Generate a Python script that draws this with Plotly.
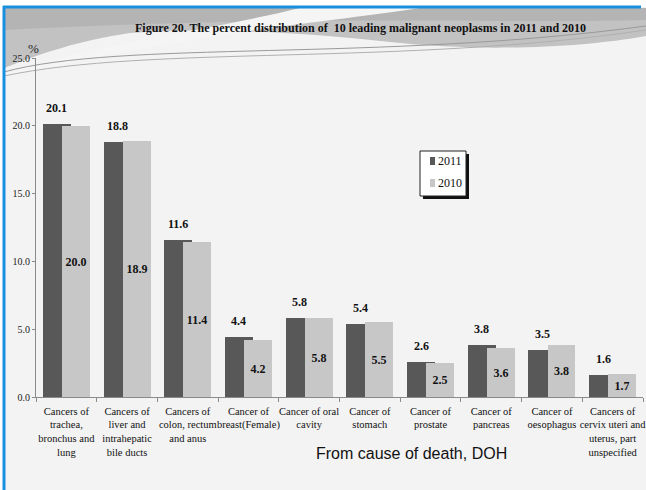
import plotly.graph_objects as go

# ---------------- data ----------------
categories = [
    "Cancers of<br>trachea,<br>bronchus and<br>lung",
    "Cancers of<br>liver and<br>intrahepatic<br>bile ducts",
    "Cancers of<br>colon, rectum<br>and anus",
    "Cancer of<br>breast(Female)",
    "Cancer of oral<br>cavity",
    "Cancer of<br>stomach",
    "Cancer of<br>prostate",
    "Cancer of<br>pancreas",
    "Cancer of<br>oesophagus",
    "Cancers of<br>cervix uteri and<br>uterus, part<br>unspecified",
]
values_2011 = [20.1, 18.8, 11.6, 4.4, 5.8, 5.4, 2.6, 3.8, 3.5, 1.6]
values_2010 = [20.0, 18.9, 11.4, 4.2, 5.8, 5.5, 2.5, 3.6, 3.8, 1.7]
y_ticks = [0, 5, 10, 15, 20, 25]
series_names = ["2011", "2010"]

# ---------------- layout helpers ----------------
W, H = 646, 490
ML, MR, MT, MB = 36, 3, 58, 93
PW, PH = W - ML - MR, H - MT - MB


def px(x):
    return (x - ML) / PW


def py(y):
    return (H - MB - y) / PH


def path(cmds):
    out = []
    for c in cmds:
        if isinstance(c, str):
            out.append(c)
        else:
            out.append(f"{px(c[0]):.5f},{py(c[1]):.5f}")
    return " ".join(out)


SERIF = "Liberation Serif, Times New Roman, serif"
SANS = "Liberation Sans, Arial, sans-serif"
DARK = "#585858"
LIGHT = "#c7c7c7"

fig = go.Figure()

fig.add_trace(go.Bar(
    x=categories, y=values_2011, name=series_names[0],
    marker=dict(color=DARK, line=dict(width=0)),
    width=0.46, offset=-0.387, showlegend=False, hoverinfo="x+y",
))
fig.add_trace(go.Bar(
    x=categories, y=values_2010, name=series_names[1],
    marker=dict(color=LIGHT, line=dict(width=0)),
    width=0.46, offset=-0.073, showlegend=False,
    text=[f"<b>{v:.1f}</b>" for v in values_2010],
    textposition="inside", insidetextanchor="middle", textangle=0,
    constraintext="none",
    textfont=dict(family=SERIF, size=12, color="#111"),
))

annotations = []
# 2011 labels above the dark bars
bar_center_shift = (-0.387 + 0.23) * PW / len(categories)
for c, v in zip(categories, values_2011):
    annotations.append(dict(
        x=c, y=v, xref="x", yref="y", text=f"<b>{v:.1f}</b>", showarrow=False,
        xshift=bar_center_shift, yshift=16, yanchor="middle",
        font=dict(family=SERIF, size=12, color="#111"),
    ))

# title
annotations.append(dict(
    x=px(360), y=py(28), xref="paper", yref="paper", showarrow=False,
    text="<b>Figure 20. The percent distribution of  10 leading malignant neoplasms in 2011 and 2010</b>",
    font=dict(family=SERIF, size=12, color="#111"), xanchor="center", yanchor="middle",
))
# % unit
annotations.append(dict(
    x=px(33), y=py(48), xref="paper", yref="paper", showarrow=False, text="%",
    font=dict(family=SERIF, size=13, color="#222"), xanchor="center", yanchor="middle",
))
# source
annotations.append(dict(
    x=px(411), y=py(453), xref="paper", yref="paper", showarrow=False,
    text="From cause of death, DOH",
    font=dict(family=SANS, size=16, color="#111"), xanchor="center", yanchor="middle",
))
# legend texts
annotations.append(dict(
    x=px(436), y=py(161), xref="paper", yref="paper", showarrow=False, text=series_names[0],
    font=dict(family=SERIF, size=12, color="#111"), xanchor="left", yanchor="middle",
))
annotations.append(dict(
    x=px(436), y=py(183), xref="paper", yref="paper", showarrow=False, text=series_names[1],
    font=dict(family=SERIF, size=12, color="#111"), xanchor="left", yanchor="middle",
))

shapes = []
# slide background
shapes.append(dict(type="rect", xref="paper", yref="paper", layer="below",
                   x0=px(4), x1=px(W), y0=py(7), y1=py(H),
                   fillcolor="#f3f3f3", line=dict(width=0)))
# grey header swoosh
shapes.append(dict(type="path", xref="paper", yref="paper", layer="below",
                   path=path(["M", (4, 8), "L", (646, 8), "L", (646, 36),
                              "C", (580, 48), (480, 52), (390, 42),
                              "C", (300, 32), (200, 27), (130, 33),
                              "C", (80, 40), (40, 54), (4, 68), "Z"]),
                   fillcolor="#c2c2c2", line=dict(width=0)))
shapes.append(dict(type="path", xref="paper", yref="paper", layer="below",
                   path=path(["M", (4, 8), "L", (646, 8), "L", (646, 20),
                              "C", (500, 24), (300, 14), (4, 30), "Z"]),
                   fillcolor="#b4b4b4", line=dict(width=0)))
# white swoosh band
shapes.append(dict(type="path", xref="paper", yref="paper", layer="below",
                   path=path(["M", (4, 74), "C", (90, 46), (220, 28), (300, 8),
                              "L", (420, 8), "C", (330, 22), (180, 34), (4, 78), "Z"]),
                   fillcolor="#f5f5f5", line=dict(width=0)))
# thin swoosh lines
shapes.append(dict(type="path", xref="paper", yref="paper", layer="below",
                   path=path(["M", (4, 72), "C", (120, 40), (380, 62), (646, 26)]),
                   line=dict(color="#9a9a9a", width=1)))
shapes.append(dict(type="path", xref="paper", yref="paper", layer="below",
                   path=path(["M", (4, 76), "C", (150, 45), (400, 66), (646, 30)]),
                   line=dict(color="#b0b0b0", width=1)))
# blue frame
shapes.append(dict(type="line", xref="paper", yref="paper", layer="above",
                   x0=px(3), x1=px(641), y0=py(7), y1=py(7),
                   line=dict(color="#1a8fe0", width=3)))
shapes.append(dict(type="line", xref="paper", yref="paper", layer="above",
                   x0=px(4), x1=px(4), y0=py(6), y1=py(H),
                   line=dict(color="#1a8fe0", width=3)))
# manual legend
shapes.append(dict(type="rect", xref="paper", yref="paper",
                   x0=px(423), x1=px(469), y0=py(154), y1=py(199),
                   fillcolor="#111", line=dict(width=0)))
shapes.append(dict(type="rect", xref="paper", yref="paper",
                   x0=px(420), x1=px(466), y0=py(151), y1=py(196),
                   fillcolor="#ffffff", line=dict(color="#222", width=1)))
shapes.append(dict(type="rect", xref="paper", yref="paper",
                   x0=px(430), x1=px(435), y0=py(157), y1=py(165),
                   fillcolor=DARK, line=dict(width=0)))
shapes.append(dict(type="rect", xref="paper", yref="paper",
                   x0=px(430), x1=px(435), y0=py(179), y1=py(187),
                   fillcolor=LIGHT, line=dict(width=0)))

fig.update_layout(
    width=W, height=H,
    margin=dict(l=ML, r=MR, t=MT, b=MB, autoexpand=False),
    paper_bgcolor="#ffffff", plot_bgcolor="rgba(0,0,0,0)",
    barmode="overlay", bargap=0,
    annotations=annotations, shapes=shapes,
    showlegend=False,
    font=dict(family=SERIF, color="#111"),
    xaxis=dict(
        showline=True, linecolor="#8a8a8a", linewidth=1,
        ticks="outside", tickson="boundaries", ticklen=4, tickcolor="#8a8a8a",
        tickangle=0, ticklabelstandoff=4,
        tickfont=dict(family=SERIF, size=10.5, color="#111"),
        showgrid=False, zeroline=False, fixedrange=True,
    ),
    yaxis=dict(
        range=[0, 25], tickvals=y_ticks, tickformat=".1f",
        showline=True, linecolor="#8a8a8a", linewidth=1,
        ticks="outside", ticklen=3, tickcolor="#8a8a8a",
        tickfont=dict(family=SERIF, size=10, color="#222"),
        showgrid=False, zeroline=False, fixedrange=True,
    ),
)

fig.write_html(
    "out.html",
    config={"displayModeBar": False},
    post_script="document.body.style.margin='0';document.body.style.overflow='hidden';",
)
